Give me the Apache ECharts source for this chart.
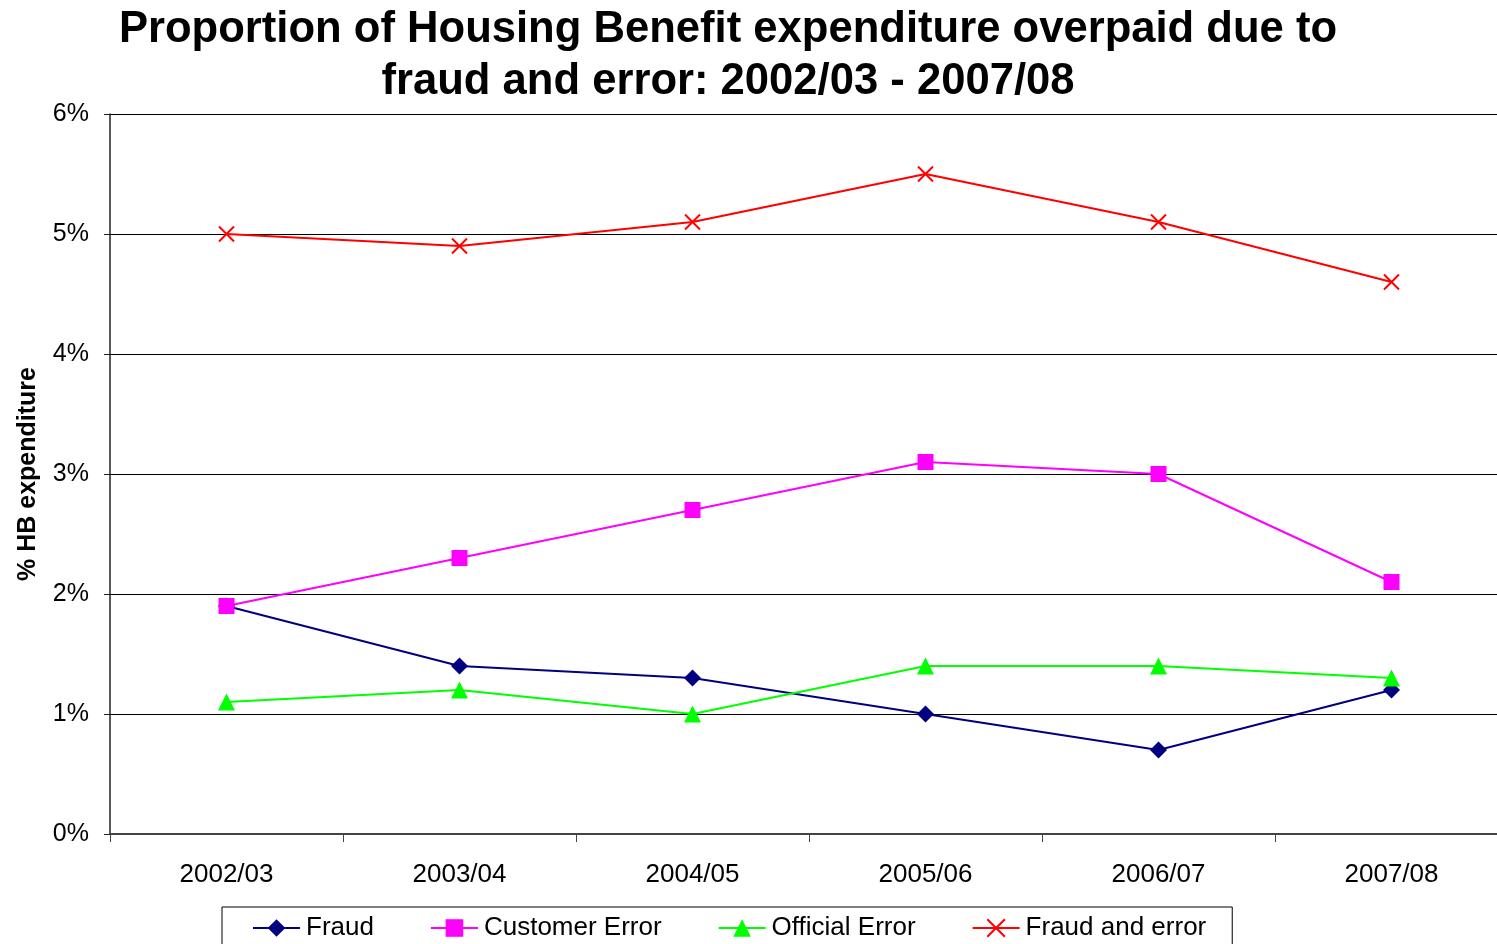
<!DOCTYPE html>
<html><head><meta charset="utf-8">
<script src="https://cdn.jsdelivr.net/npm/echarts@6/dist/echarts.min.js"></script>
<style>html,body{margin:0;padding:0;background:#fff}#c{width:1497px;height:944px}</style>
</head><body><div id="c"></div>
<script>
const categories = ['2002/03','2003/04','2004/05','2005/06','2006/07','2007/08'];
const fraud = [1.9, 1.4, 1.3, 1.0, 0.7, 1.2];
const customerError = [1.9, 2.3, 2.7, 3.1, 3.0, 2.1];
const officialError = [1.1, 1.2, 1.0, 1.4, 1.4, 1.3];
const fraudAndError = [5.0, 4.9, 5.1, 5.5, 5.1, 4.6];
const titleText = 'Proportion of Housing Benefit expenditure overpaid due to\nfraud and error: 2002/03 - 2007/08';
const yName = '% HB expenditure';

const F = 'Liberation Sans, Arial, sans-serif';
const crossPath = 'path://M0,0L10,10M10,0L0,10';

function mk(name, data, color, symbol, size, extra) {
  return Object.assign({
    name, type: 'line', data, symbol, symbolSize: size,
    lineStyle: { color, width: 2 },
    itemStyle: { color },
    emphasis: { disabled: true },
    animation: false
  }, extra || {});
}

const chart = echarts.init(document.getElementById('c'));
chart.setOption({
  backgroundColor: '#fff',
  animation: false,
  title: {
    text: titleText, left: 723, textAlign: 'center', top: -1,
    textStyle: { fontFamily: F, fontSize: 43.6, fontWeight: 'bold', color: '#000', lineHeight: 52 }
  },
  grid: { left: 110, top: 114, width: 1398, height: 720, containLabel: false, outerBoundsMode: 'none' },
  xAxis: {
    type: 'category', data: categories, boundaryGap: true,
    axisLine: { lineStyle: { color: '#444', width: 2 } },
    axisTick: { show: true, length: 8, lineStyle: { color: '#444' } },
    axisLabel: { fontFamily: F, fontSize: 26, color: '#000', margin: 28 },
    splitLine: { show: false }
  },
  yAxis: {
    type: 'value', min: 0, max: 6, interval: 1,
    name: yName, nameLocation: 'middle', nameGap: 69, nameRotate: 90,
    nameTextStyle: { fontFamily: F, fontSize: 25, fontWeight: 'bold', color: '#000' },
    axisLine: { show: true, lineStyle: { color: '#222', width: 1.5 } },
    axisTick: { show: true, length: 6, lineStyle: { color: '#222' } },
    axisLabel: { fontFamily: F, fontSize: 25, color: '#000', margin: 21, lineHeight: 30, verticalAlign: 'middle', padding: [4, 0, 0, 0], formatter: v => v + '%' },
    splitLine: { show: true, lineStyle: { color: '#000', width: 1 } }
  },
  legend: {
    left: 222, top: 907, orient: 'horizontal',
    data: ['Fraud', 'Customer Error', 'Official Error', 'Fraud and error'],
    borderColor: '#000', borderWidth: 1,
    padding: [8, 26, 12, 30],
    itemWidth: 47, itemHeight: 22, itemGap: 56,
    textStyle: { fontFamily: F, fontSize: 26, color: '#000', padding: [0, 0, 0, 1] }
  },
  series: [
    mk('Fraud', fraud, '#000080', 'diamond', 17),
    mk('Customer Error', customerError, '#ff00ff', 'rect', 16),
    mk('Official Error', officialError, '#00ff00', 'triangle', 17),
    mk('Fraud and error', fraudAndError, '#ff0000', crossPath, 15, {
      itemStyle: { color: 'none', borderColor: '#ff0000', borderWidth: 2 }
    })
  ]
});
</script></body></html>
